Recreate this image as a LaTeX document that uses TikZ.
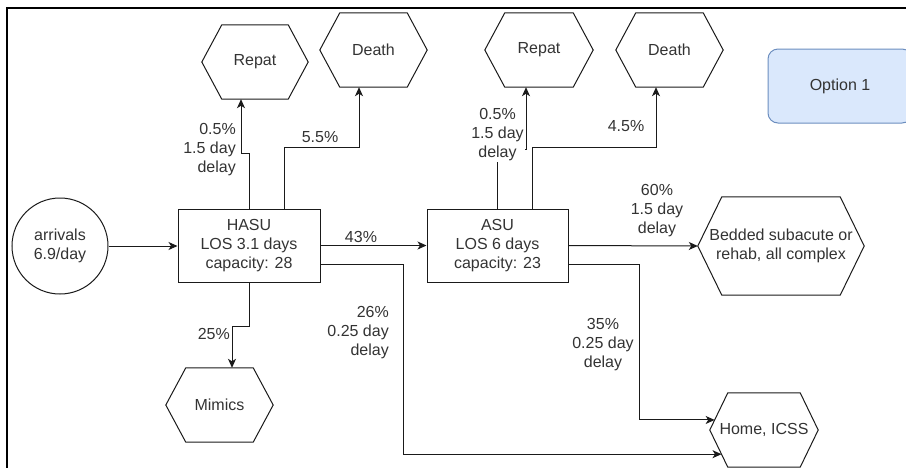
\documentclass[tikz,border=0pt]{standalone}
\usepackage{fontspec}
\setmainfont{Liberation Sans}
\usetikzlibrary{arrows.meta,calc}

\definecolor{inkline}{HTML}{1A1A1A}
\definecolor{inktext}{HTML}{333333}
\definecolor{optfill}{HTML}{DAE8FC}
\definecolor{optline}{HTML}{6C8EBF}

\tikzset{
  base/.style={font=\fontsize{16}{19}\selectfont, text=inktext},
  unitbox/.style={base, draw=inkline, line width=1pt, minimum width=142pt,
    minimum height=73pt, align=center, inner sep=0pt},
  srcnode/.style={base, draw=inkline, line width=1pt, circle,
    minimum size=96pt, align=center, inner sep=0pt},
  hexnode/.style={base, rectangle, minimum width=107pt, minimum height=74pt,
    align=center, inner sep=0pt},
  hexline/.style={draw=inkline, line width=1pt},
  optnode/.style={base, draw=optline, fill=optfill, line width=1pt,
    rounded corners=10pt, minimum width=144pt, minimum height=74pt, inner sep=0pt},
  flow/.style={draw=inkline, line width=1pt,
    -{Stealth[length=9pt,width=8pt,inset=2.5pt]}},
  lbl/.style={base, align=center, inner sep=1pt},
  lblr/.style={base, align=right, inner sep=1pt, anchor=east},
  lblw/.style={lbl, fill=white},
}

% hexagon outline around a named node; #2 is the slant inset
\newcommand\hexoutline[2]{%
  \coordinate (#1-nw) at ([xshift=#2]#1.north west);
  \coordinate (#1-ne) at ([xshift=-#2]#1.north east);
  \coordinate (#1-se) at ([xshift=-#2]#1.south east);
  \coordinate (#1-sw) at ([xshift=#2]#1.south west);
  \draw[hexline] (#1.west) -- (#1-nw) -- (#1-ne) -- (#1.east) -- (#1-se) -- (#1-sw) -- cycle;
}

\begin{document}
\begin{tikzpicture}[x=1pt,y=-1pt]
\useasboundingbox (0,0) rectangle (906,467);

% outer frame (only the top and left edges fall inside the page)
\draw[line width=2.4pt, black] (7,480) -- (7,8) -- (920,8);

% units
\node[srcnode] (arr) at (60,246) {arrivals\\6.9/day};
\node[unitbox] (hasu) at (249,245.5) {HASU\\LOS 3.1 days\\capacity: 28};
\node[unitbox, minimum width=141pt] (asu) at (497.5,245.5) {ASU\\LOS 6 days\\capacity: 23};

% outcomes
\node[hexnode, minimum width=106pt] (repatA) at (255,62) {Repat};
\node[hexnode] (deathA) at (373.5,50) {Death};
\node[hexnode, minimum width=108pt] (repatB) at (539,50) {Repat};
\node[hexnode] (deathB) at (669.5,50) {Death};
\node[hexnode] (mimics) at (219.5,405) {Mimics};
\node[hexnode, minimum width=166pt, minimum height=98pt] (bedded) at (781,246)
  {Bedded subacute or\\rehab, all complex};
\node[hexnode, minimum width=108pt] (home) at (764,430) {Home, ICSS};

\hexoutline{repatA}{20pt}
\hexoutline{deathA}{20pt}
\hexoutline{repatB}{20pt}
\hexoutline{deathB}{20pt}
\hexoutline{mimics}{20pt}
\hexoutline{bedded}{24pt}
\hexoutline{home}{18pt}

\node[optnode] (opt) at (840,86) {Option 1};

% entry points on the Home hexagon's left edges
\coordinate (homeUp) at ($(home.west)!0.27!(home-nw)$);
\coordinate (homeLow) at ($(home.west)!0.65!(home-sw)$);

% HASU flows
\draw[flow] (arr.east) -- (arr.east -| hasu.west);
\draw[flow] (hasu.east) -- (hasu.east -| asu.west);
\node[lbl] (l43) at (361,237) {43\%};

\draw[flow] (hasu.north) -- ++(0,-55) -| ([xshift=-14pt]repatA.south);
\node[lblr] (lrA) at (237,150) {0.5\%\\1.5 day\\delay};

\draw[flow] ([xshift=35pt]hasu.north) -- ++(0,-61) -| ([xshift=-14.5pt]deathA.south);
\node[lbl] (ldA) at (320,137) {5.5\%};

\draw[flow] (hasu.south) -- ++(0,44) -| ([xshift=12.5pt]mimics.north);
\node[lblr] (lmim) at (231,334) {25\%};

\draw[flow] ([yshift=-18.5pt]hasu.east) -- ++(83,0) |- (homeLow);
\node[lblr] (lhome1) at (390,333) {26\%\\0.25 day\\delay};

% ASU flows
\draw[flow] (asu.north) -- ++(0,-59) -| ([xshift=-13pt]repatB.south);
\node[lblw] (lrB) at (497.5,134.5) {0.5\%\\1.5 day\\delay};

\draw[flow] ([xshift=34.5pt]asu.north) -- ++(0,-61) -| ([xshift=-13.5pt]deathB.south);
\node[lbl] (ldB) at (626,126) {4.5\%};

\draw[flow] (asu.east) -- (bedded.west);
\node[lbl] (lbed) at (657,211) {60\%\\1.5 day\\delay};

\draw[flow] ([yshift=-18.5pt]asu.east) -- ++(71,0) |- (homeUp);
\node[lbl] (lhome2) at (603,345) {35\%\\0.25 day\\delay};

\end{tikzpicture}
\end{document}
